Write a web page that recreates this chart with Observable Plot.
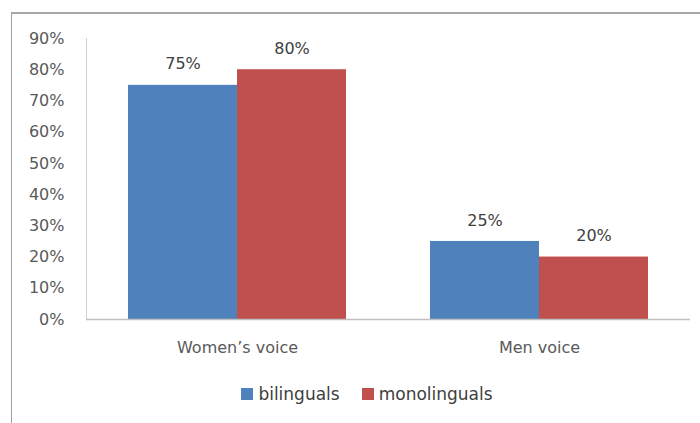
<!DOCTYPE html>
<html>
<head>
<meta charset="utf-8">
<script src="https://cdn.jsdelivr.net/npm/d3@7"></script>
<script src="https://cdn.jsdelivr.net/npm/@observablehq/plot@0.6"></script>
<style>
  html, body { margin: 0; padding: 0; background: #fff; width: 700px; height: 423px; overflow: hidden; }
  #wrap { position: relative; width: 700px; height: 423px; font-family: "DejaVu Sans", sans-serif; }
  #border { position: absolute; left: 11px; top: 12px; width: 700px; height: 420px; border-left: 1px solid #a0a0a0; border-top: 2px solid #a8a8a8; box-sizing: border-box; }
  #chart { position: absolute; left: 0; top: 0; }
  #legend { position: absolute; top: 384px; left: 0; width: 700px; display: flex; justify-content: center; gap: 22px; font-size: 17px; color: #404040; padding-left: 34px; box-sizing: border-box; }
  .sw { display: inline-flex; align-items: center; gap: 5px; }
  .sq { width: 12px; height: 12px; display: inline-block; }
</style>
</head>
<body>
<div id="wrap">
  <div id="border"></div>
  <div id="chart"></div>
  <div id="legend"></div>
</div>
<script>
const categories = ["Women’s voice", "Men voice"];
const series = ["bilinguals", "monolinguals"];
const bilinguals = [0.75, 0.25];
const monolinguals = [0.80, 0.20];
const yTicks = [0, 0.1, 0.2, 0.3, 0.4, 0.5, 0.6, 0.7, 0.8, 0.9];
const colors = ["#4f81bd", "#c0504d"];

const values = {bilinguals, monolinguals};
const data = [];
categories.forEach((c, i) => series.forEach(s => data.push({category: c, series: s, value: values[s][i]})));
const pct = d3.format(".0%");

const plot = Plot.plot({
  width: 700,
  height: 370,
  marginLeft: 85,
  marginRight: 10,
  marginTop: 38,
  marginBottom: 51,
  style: {fontFamily: "DejaVu Sans, sans-serif", fontSize: "16px", color: "#595959", background: "transparent"},
  fx: {domain: categories, padding: 0, label: null, axis: "bottom", tickSize: 0, tickPadding: 22},
  x: {domain: series, paddingInner: 0, paddingOuter: 0.375, axis: null},
  y: {domain: [0, 0.9], ticks: yTicks, tickFormat: pct, tickSize: 0, tickPadding: 22, label: null, line: true},
  color: {domain: series, range: colors},
  marks: [
    Plot.barY(data, {fx: "category", x: "series", y: "value", fill: "series"}),
    Plot.ruleY([0], {stroke: "#bfbfbf", strokeWidth: 1.5}),
    Plot.text(data, {fx: "category", x: "series", y: "value", text: d => pct(d.value), dy: -21, fill: "#404040", fontSize: 16})
  ]
});
document.getElementById("chart").appendChild(plot);
d3.select(plot).selectAll("[aria-label='frame'] line, [aria-label='frame']").attr("stroke", "#d0d0d0");

const legend = document.getElementById("legend");
series.forEach((s, i) => {
  const el = document.createElement("span");
  el.className = "sw";
  el.innerHTML = `<span class="sq" style="background:${colors[i]}"></span><span>${s}</span>`;
  legend.appendChild(el);
});
</script>
</body>
</html>
